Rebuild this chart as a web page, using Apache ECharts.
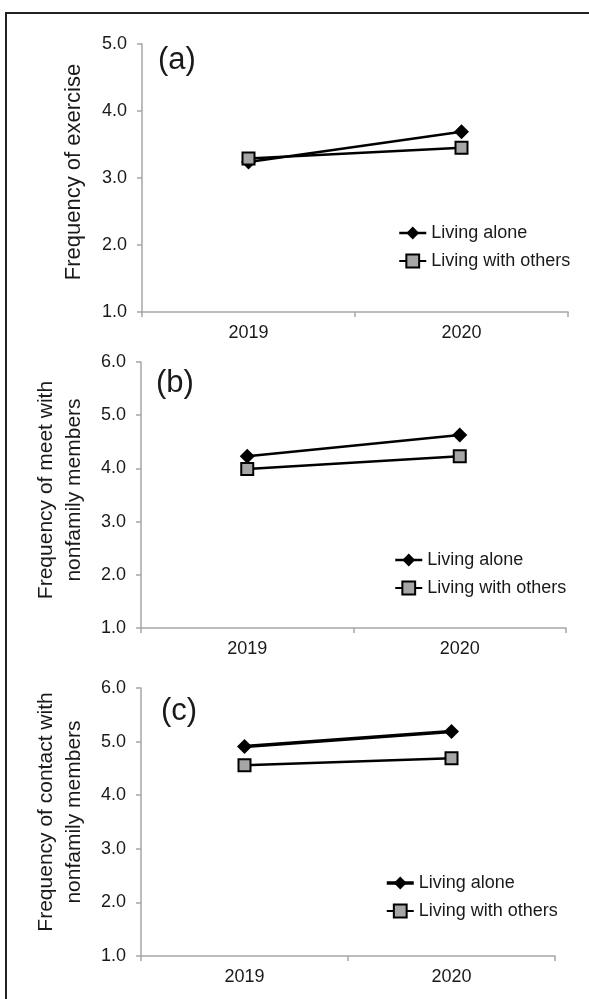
<!DOCTYPE html>
<html>
<head>
<meta charset="utf-8">
<script src="https://cdn.jsdelivr.net/npm/echarts@6/dist/echarts.min.js"></script>
<style>
html,body{margin:0;padding:0;background:#fff;}
#chart{width:589px;height:999px;}
</style>
</head>
<body>
<div id="chart"></div>
<script>
// ---- data ----
const years = ['2019', '2020'];
const seriesNames = ['Living alone', 'Living with others'];
const panelLabels = ['(a)', '(b)', '(c)'];
const axisTitles = ['Frequency of exercise', 'Frequency of meet with\nnonfamily members', 'Frequency of contact with\nnonfamily members'];
const yMin = [1, 1, 1];
const yMax = [5, 6, 6];
const exerciseAlone = [3.24, 3.69];
const exerciseOthers = [3.29, 3.45];
const meetAlone = [4.23, 4.63];
const meetOthers = [3.99, 4.23];
const contactAlone = [4.91, 5.19];
const contactOthers = [4.56, 4.69];

const aloneData = [exerciseAlone, meetAlone, contactAlone];
const othersData = [exerciseOthers, meetOthers, contactOthers];

// ---- layout ----
const grids = [
  {left: 142, right: 21, top: 44, height: 268},
  {left: 141, right: 23, top: 362, height: 266},
  {left: 141, right: 34, top: 688, height: 268}
];
const legendPos = [
  {left: 398, top: 224},
  {left: 394, top: 551},
  {left: 385, top: 874}
];
const labelPos = [
  {left: 158, top: 45},
  {left: 156, top: 368},
  {left: 161, top: 696}
];
const nameGaps = [54, 53, 53];
const nameSizes = [22, 21, 21];
const nameShift = [12, 10, 20];
const aloneWidth = [2.5, 2.5, 3.5];

const axisColor = '#a6a6a6';
const textColor = '#1a1a1a';
const font = 'Liberation Sans, Arial, sans-serif';

const option = {
  animation: false,
  backgroundColor: '#fff',
  textStyle: {fontFamily: font},
  grid: grids.map(g => Object.assign({containLabel: false}, g)),
  title: panelLabels.map((t, i) => ({
    text: t, left: labelPos[i].left, top: labelPos[i].top, padding: 0,
    textStyle: {fontSize: 31, fontWeight: 'normal', color: textColor, fontFamily: font}
  })),
  xAxis: grids.map((g, i) => ({
    type: 'category', gridIndex: i, data: years, boundaryGap: true,
    axisLine: {lineStyle: {color: axisColor, width: 1.5}},
    axisTick: {show: true, alignWithLabel: false, length: 5, lineStyle: {color: axisColor, width: 1.5}},
    axisLabel: {color: textColor, fontSize: 18, margin: 12, fontFamily: font},
    splitLine: {show: false}
  })),
  yAxis: grids.map((g, i) => ({
    type: 'value', gridIndex: i, min: yMin[i], max: yMax[i], interval: 1,
    name: axisTitles[i], nameLocation: 'middle', nameGap: nameGaps[i], nameRotate: 90,
    nameTextStyle: {fontSize: nameSizes[i], color: textColor, lineHeight: 28, fontFamily: font,
      padding: [0, 0, 0, nameShift[i]]},
    axisLine: {show: true, lineStyle: {color: axisColor, width: 1.5}},
    axisTick: {show: true, length: 5, lineStyle: {color: axisColor, width: 1.5}},
    axisLabel: {color: textColor, fontSize: 18, margin: 15, fontFamily: font,
      formatter: v => v.toFixed(1)},
    splitLine: {show: false}
  })),
  legend: grids.map((g, i) => ({
    orient: 'vertical', left: legendPos[i].left, top: legendPos[i].top,
    itemWidth: 27, itemHeight: 16, itemGap: 10, padding: 0,
    textStyle: {fontSize: 18, color: textColor, fontFamily: font},
    data: [
      {name: seriesNames[0] + '\u200b'.repeat(i), lineStyle: {width: aloneWidth[i], color: '#000'}},
      {name: seriesNames[1] + '\u200b'.repeat(i)}
    ]
  })),
  series: []
};

for (let i = 0; i < 3; i++) {
  option.series.push({
    name: seriesNames[0] + '\u200b'.repeat(i), type: 'line', xAxisIndex: i, yAxisIndex: i,
    data: aloneData[i], symbol: 'diamond', symbolSize: [15, 15],
    lineStyle: {color: '#000', width: aloneWidth[i]},
    itemStyle: {color: '#000', borderColor: '#000', borderWidth: 0},
    z: 3
  });
  option.series.push({
    name: seriesNames[1] + '\u200b'.repeat(i), type: 'line', xAxisIndex: i, yAxisIndex: i,
    data: othersData[i], symbol: 'rect', symbolSize: 12,
    lineStyle: {color: '#000', width: 2.5},
    itemStyle: {color: '#a6a6a6', borderColor: '#000', borderWidth: 2},
    z: 4
  });
}

option.graphic = [{
  type: 'polyline', silent: true,
  shape: {points: [[6, 1005], [6, 13], [600, 13]]},
  style: {stroke: '#222', lineWidth: 2, fill: null}
}];

const chart = echarts.init(document.getElementById('chart'), null, {renderer: 'canvas'});
chart.setOption(option);
</script>
</body>
</html>
